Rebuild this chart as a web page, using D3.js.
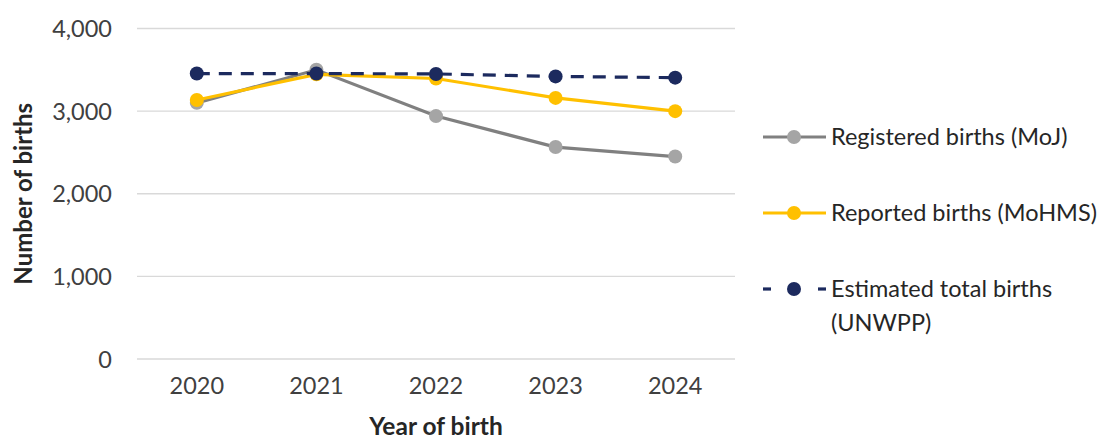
<!DOCTYPE html>
<html>
<head>
<meta charset="utf-8">
<script src="https://cdn.jsdelivr.net/npm/d3@7"></script>
<style>
  html, body { margin: 0; padding: 0; background: #fff; }
  svg { display: block; font-family: "Lato", "Open Sans", sans-serif; }
</style>
</head>
<body>
<svg id="chart" width="1107" height="441"></svg>
<script>
// Births by year of birth, three sources
const years = ["2020", "2021", "2022", "2023", "2024"];
const registered = [3100, 3500, 2940, 2565, 2450];   // MoJ
const reported = [3135, 3445, 3395, 3160, 3000];     // MoHMS
const estimated = [3455, 3455, 3450, 3420, 3405];    // UNWPP
const yTicks = [0, 1000, 2000, 3000, 4000];
const seriesNames = ["Registered births (MoJ)", "Reported births (MoHMS)", "Estimated total births (UNWPP)"];

const svg = d3.select("#chart");
const margin = { left: 137, right: 372, top: 28.5, bottom: 82 };
const W = 1107, H = 441;

const x = d3.scaleBand().domain(years).range([margin.left, W - margin.right]);
const y = d3.scaleLinear().domain([0, 4000]).range([H - margin.bottom, margin.top]);

const fmt = d3.format(",");
const textColor = "#404040";
const labelSize = 23.5;

// horizontal gridlines
svg.append("g")
  .selectAll("line").data(yTicks).join("line")
  .attr("x1", margin.left).attr("x2", W - margin.right)
  .attr("y1", d => y(d)).attr("y2", d => y(d))
  .attr("stroke", "#d9d9d9").attr("stroke-width", 1.3);

// y axis labels
const yAxis = svg.append("g")
  .attr("transform", `translate(${margin.left - 25},0)`)
  .call(d3.axisLeft(y).tickValues(yTicks).tickFormat(fmt).tickSize(0).tickPadding(0));
yAxis.select(".domain").remove();
yAxis.selectAll("text").attr("font-size", labelSize).attr("fill", textColor)
  .attr("font-family", "Lato, sans-serif").attr("dy", "0.35em");

// x axis labels
const xAxis = svg.append("g")
  .attr("transform", `translate(0,${H - margin.bottom + 18})`)
  .call(d3.axisBottom(x).tickSize(0).tickPadding(0));
xAxis.select(".domain").remove();
xAxis.selectAll("text").attr("font-size", labelSize).attr("fill", textColor)
  .attr("font-family", "Lato, sans-serif").attr("dy", "0.71em");

// axis titles
svg.append("text")
  .attr("transform", `translate(32,${(y(0) + y(4000)) / 2}) rotate(-90)`)
  .attr("text-anchor", "middle")
  .attr("font-size", 24).attr("font-weight", "bold").attr("fill", "#262626")
  .text("Number of births");
svg.append("text")
  .attr("x", (x.range()[0] + x.range()[1]) / 2).attr("y", 435)
  .attr("text-anchor", "middle")
  .attr("font-size", 24.5).attr("font-weight", "bold").attr("fill", "#262626")
  .text("Year of birth");

const series = [
  { name: seriesNames[0], values: registered, line: "#808080", dot: "#a5a5a5", dash: null },
  { name: seriesNames[1], values: reported, line: "#ffc000", dot: "#ffc000", dash: null },
  { name: seriesNames[2], values: estimated, line: "#1c2a5e", dot: "#1c2a5e", dash: "13,9" }
];

const cx = i => x(years[i]) + x.bandwidth() / 2;
const line = d3.line().x((d, i) => cx(i)).y(d => y(d));

series.forEach(s => {
  const g = svg.append("g");
  g.append("path")
    .attr("d", line(s.values))
    .attr("fill", "none")
    .attr("stroke", s.line)
    .attr("stroke-width", 3.2)
    .attr("stroke-dasharray", s.dash);
  g.selectAll("circle").data(s.values).join("circle")
    .attr("cx", (d, i) => cx(i)).attr("cy", d => y(d))
    .attr("r", 7).attr("fill", s.dot);
});

// legend
const legendRows = [
  { s: series[0], y: 137, lines: ["Registered births (MoJ)"] },
  { s: series[1], y: 213, lines: ["Reported births (MoHMS)"] },
  { s: series[2], y: 289, lines: ["Estimated total births", "(UNWPP)"] }
];
const leg = svg.append("g");
legendRows.forEach(r => {
  const g = leg.append("g");
  if (r.s.dash) {
    g.append("line").attr("x1", 763).attr("x2", 771).attr("y1", r.y).attr("y2", r.y)
      .attr("stroke", r.s.line).attr("stroke-width", 3.2);
    g.append("line").attr("x1", 818).attr("x2", 826).attr("y1", r.y).attr("y2", r.y)
      .attr("stroke", r.s.line).attr("stroke-width", 3.2);
  } else {
    g.append("line").attr("x1", 763).attr("x2", 826).attr("y1", r.y).attr("y2", r.y)
      .attr("stroke", r.s.line).attr("stroke-width", 3.2);
  }
  g.append("circle").attr("cx", 794).attr("cy", r.y).attr("r", 7).attr("fill", r.s.dot);
  r.lines.forEach((t, k) => {
    g.append("text").attr("x", 831).attr("y", r.y + k * 34).attr("dy", "0.35em")
      .attr("font-size", labelSize).attr("fill", "#262626").text(t);
  });
});
</script>
</body>
</html>
